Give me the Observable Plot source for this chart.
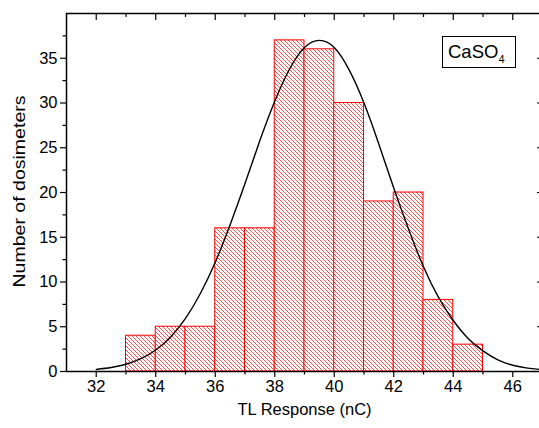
<!DOCTYPE html>
<html><head><meta charset="utf-8">
<script src="https://cdn.jsdelivr.net/npm/d3@7"></script>
<script src="https://cdn.jsdelivr.net/npm/@observablehq/plot@0.6"></script>
<style>
body{margin:0;background:#fff;}
#chart{position:relative;width:539px;height:428px;overflow:hidden;}
</style></head><body><div id="chart"></div>
<script>
// Histogram bins (TL response, nC) and counts
const binLow  = [33,34,35,36,37,38,39,40,41,42,43,44];
const binHigh = [34,35,36,37,38,39,40,41,42,43,44,45];
const counts  = [4,5,5,16,16,37,36,30,19,20,8,3];

// Fitted normal curve
const fitX = [32,32.5,33,33.5,34,34.5,35,35.5,36,36.5,37,37.5,38,38.5,39,39.5,40,40.5,41,41.5,42,42.5,43,43.5,44,44.5,45,45.5,46,46.5,47];
const fitY = [0.23,0.44,0.81,1.43,2.4,3.86,5.93,8.71,12.2,16.4,21.0,25.8,30.2,33.8,36.2,37.0,36.2,33.7,30.0,25.4,20.5,15.9,11.7,8.3,5.7,3.7,2.3,1.3,0.7,0.38,0.2];

// Axes
const xMajor = [32,34,36,38,40,42,44,46];
const xMinor = [33,35,37,39,41,43,45];
const yMajor = [0,5,10,15,20,25,30,35];
const yMinor = [2.5,7.5,12.5,17.5,22.5,27.5,32.5,37.5];
const xDomain = [31,47];
const yDomain = [0,40];
const xTitle = "TL Response (nC)";
const yTitle = "Number of dosimeters";
const legendMain = "CaSO";
const legendSub = "4";

const bins = binLow.map((lo,i)=>({lo, hi: binHigh[i], n: counts[i]}));
const fit = fitX.map((x,i)=>({x, y: fitY[i]}));
const FONT = "'Liberation Sans', Arial, sans-serif";
const FS = 16.5;
const blank = () => "";

const plot = Plot.plot({
  width: 539, height: 428,
  marginLeft: 66, marginRight: -3, marginTop: 13, marginBottom: 57,
  x: {domain: xDomain, range: [66, 542], axis: null},
  y: {domain: yDomain, range: [371, 13], axis: null},
  style: {fontFamily: FONT, fontSize: FS + "px", color: "#000", background: "#fff"},
  marks: [
    Plot.rect(bins, {x1: "lo", x2: "hi", y1: 0, y2: "n", fill: "url(#hatch)", stroke: "#ff0000", strokeWidth: 1}),
    Plot.line(fit, {x: "x", y: "y", curve: "natural", stroke: "#000", strokeWidth: 1.4}),
    Plot.ruleX(xDomain, {stroke: "#000", strokeWidth: 1.5}),
    Plot.ruleY(yDomain, {stroke: "#000", strokeWidth: 1.5}),
    Plot.axisX({anchor: "bottom", ticks: xMajor, tickSize: 6, tickPadding: 3, fontSize: FS, label: null, strokeWidth: 1.2}),
    Plot.axisX({anchor: "bottom", ticks: xMinor, tickSize: 3.5, tickFormat: blank, label: null, strokeWidth: 1.2}),
    Plot.axisX({anchor: "top", ticks: xMajor, tickSize: 6, dy: 6, tickFormat: blank, label: null, strokeWidth: 1.2}),
    Plot.axisX({anchor: "top", ticks: xMinor, tickSize: 3, dy: 3, tickFormat: blank, label: null, strokeWidth: 1.2}),
    Plot.axisY({anchor: "left", ticks: yMajor, tickSize: 6, tickPadding: 3, fontSize: FS, label: null, strokeWidth: 1.2}),
    Plot.axisY({anchor: "left", ticks: yMinor, tickSize: 3.5, tickFormat: blank, label: null, strokeWidth: 1.2}),
    Plot.axisY({anchor: "right", ticks: yMajor, tickSize: 6, dx: -6, tickFormat: blank, label: null, strokeWidth: 1.2}),
    Plot.axisY({anchor: "right", ticks: yMinor, tickSize: 4, dx: -4, tickFormat: blank, label: null, strokeWidth: 1.2}),
    Plot.text([xTitle], {frameAnchor: "bottom", dy: 43, fontSize: FS, fill: "#000"}),
    Plot.text([yTitle], {frameAnchor: "left", dx: -47, dy: -1, rotate: -90, textAnchor: "middle", lineAnchor: "middle", fontSize: 17, fill: "#000", className: "ytitle"})
  ]
});

const s = d3.select(plot);
const defs = s.insert("defs", ":first-child");
const pat = defs.append("pattern").attr("id", "hatch").attr("patternUnits", "userSpaceOnUse")
  .attr("width", 4).attr("height", 4);
pat.append("rect").attr("width", 4).attr("height", 4).attr("fill", "#fff");
pat.append("path").attr("d", "M-1,-1L5,5M-1,3L1,5M3,-1L5,1")
  .attr("stroke", "#ff3a3a").attr("stroke-width", 0.9).attr("fill", "none");

// the y title is drawn taller in the reference: stretch it along its length
s.selectAll("text").filter(function() { return this.textContent === yTitle; })
  .attr("textLength", 192).attr("lengthAdjust", "spacingAndGlyphs");

const g = s.append("g");
g.append("rect").attr("x", 442.5).attr("y", 36.5).attr("width", 73).attr("height", 31)
  .attr("fill", "#fff").attr("stroke", "#000").attr("stroke-width", 1);
const t = g.append("text").attr("x", 448).attr("y", 58).attr("font-size", 18.5)
  .attr("text-anchor", "start").attr("font-family", FONT).attr("fill", "#000");
t.append("tspan").text(legendMain);
t.append("tspan").attr("font-size", 11).attr("dy", 5).text(legendSub);

document.getElementById("chart").appendChild(plot);
</script>
</body></html>
